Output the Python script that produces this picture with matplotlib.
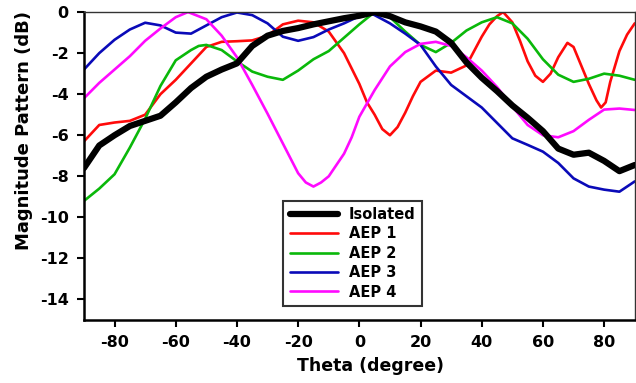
import matplotlib
matplotlib.use("Agg")
import matplotlib.pyplot as plt

# ---------------- data ----------------
theta_iso = [-90, -85, -80, -75, -70, -65, -60, -55, -50, -45, -40, -35, -30, -25, -20,
             -15, -10, -5, 0, 5, 10, 15, 20, 25, 30, 35, 40, 45, 50, 55, 60, 65, 70,
             75, 80, 85, 90]
iso = [-7.6, -6.5, -6.0, -5.55, -5.3, -5.05, -4.4, -3.7, -3.15, -2.8, -2.5, -1.65, -1.15,
       -0.92, -0.78, -0.6, -0.45, -0.3, -0.18, 0.0, -0.2, -0.5, -0.7, -0.95, -1.5, -2.45,
       -3.2, -3.85, -4.55, -5.15, -5.8, -6.65, -6.95, -6.85, -7.25, -7.75, -7.45]

theta_aep1 = [-90, -85, -80, -75, -70, -65, -60, -55, -50, -45, -40, -35, -30, -25, -20,
              -15, -10, -5, 0, 2.5, 5, 7.5, 10, 12.5, 15, 17.5, 20, 25, 30, 35, 40, 42.5,
              45, 47, 50, 52.5, 55, 57.5, 60, 62.5, 65, 68, 70, 72.5, 75, 77.5, 79, 80.5,
              82, 85, 87.5, 90]
aep1 = [-6.3, -5.5, -5.38, -5.3, -5.0, -4.0, -3.3, -2.5, -1.7, -1.45, -1.42, -1.38, -1.15,
        -0.6, -0.42, -0.5, -0.95, -2.0, -3.5, -4.4, -5.0, -5.7, -6.0, -5.6, -4.9, -4.1,
        -3.4, -2.85, -2.95, -2.6, -1.2, -0.6, -0.2, 0.0, -0.5, -1.4, -2.4, -3.1, -3.4,
        -3.0, -2.2, -1.5, -1.7, -2.6, -3.5, -4.3, -4.65, -4.4, -3.4, -1.9, -1.1, -0.55]

theta_aep2 = [-90, -85, -80, -75, -70, -65, -60, -55, -52.5, -50, -45, -40, -35, -30, -25,
              -20, -15, -10, -5, 0, 5, 10, 15, 20, 25, 30, 35, 40, 45, 50, 55, 60, 65, 70,
              75, 80, 85, 90]
aep2 = [-9.2, -8.6, -7.9, -6.6, -5.2, -3.6, -2.35, -1.85, -1.65, -1.6, -1.85, -2.4, -2.9,
        -3.15, -3.3, -2.85, -2.3, -1.9, -1.25, -0.6, 0.0, -0.25, -0.95, -1.6, -1.95, -1.5,
        -0.9, -0.5, -0.25, -0.55, -1.3, -2.3, -3.05, -3.4, -3.25, -3.0, -3.1, -3.3]

theta_aep3 = [-90, -85, -80, -75, -70, -65, -60, -55, -50, -45, -40, -35, -30, -25, -20,
              -15, -10, -5, 0, 3, 5, 10, 15, 20, 25, 30, 35, 40, 45, 50, 55, 60, 65, 70,
              75, 80, 85, 90]
aep3 = [-2.8, -2.0, -1.35, -0.85, -0.52, -0.65, -1.0, -1.05, -0.65, -0.25, -0.02, -0.15,
        -0.55, -1.2, -1.4, -1.22, -0.85, -0.55, -0.2, 0.0, -0.15, -0.55, -1.05, -1.6, -2.65,
        -3.55, -4.1, -4.65, -5.4, -6.15, -6.47, -6.8, -7.35, -8.1, -8.5, -8.65, -8.75, -8.25]

theta_aep4 = [-90, -85, -80, -75, -70, -65, -60, -56, -50, -45, -40, -35, -30, -25, -20,
              -17.5, -15, -12.5, -10, -5, -2.5, 0, 5, 10, 15, 20, 25, 30, 35, 40, 45, 50,
              55, 60, 65, 70, 75, 80, 85, 90]
aep4 = [-4.2, -3.45, -2.8, -2.15, -1.4, -0.8, -0.25, 0.0, -0.35, -1.15, -2.2, -3.55, -4.95,
        -6.4, -7.85, -8.3, -8.5, -8.3, -8.0, -6.9, -6.1, -5.1, -3.8, -2.65, -1.95, -1.55,
        -1.45, -1.65, -2.2, -2.85, -3.65, -4.6, -5.5, -6.0, -6.1, -5.8, -5.25, -4.75,
        -4.7, -4.77]

labels = ["Isolated", "AEP 1", "AEP 2", "AEP 3", "AEP 4"]
colors = ["#000000", "#ff0a0a", "#0ab80a", "#0a0ab8", "#ff0aff"]
xticks = [-80, -60, -40, -20, 0, 20, 40, 60, 80]
yticks = [0, -2, -4, -6, -8, -10, -12, -14]

# ---------------- figure ----------------
plt.rcParams['font.family'] = ['DejaVu Sans']
plt.rcParams['font.weight'] = 'bold'

fig = plt.figure(figsize=(6.36, 3.83), dpi=100)
ax = fig.add_axes([0.132, 0.1645, 0.866, 0.804])

series = [(theta_iso, iso), (theta_aep1, aep1), (theta_aep2, aep2),
          (theta_aep3, aep3), (theta_aep4, aep4)]
widths = [4.5, 1.9, 1.9, 1.9, 1.9]
for (t, v), lab, c, w in zip(series, labels, colors, widths):
    ax.plot(t, v, color=c, lw=w, label=lab, solid_capstyle='round',
            solid_joinstyle='round', zorder=3 if w > 3 else 2)

ax.set_xlim(-90, 90)
ax.set_ylim(-15, 0)
ax.set_xticks(xticks)
ax.set_yticks(yticks)
ax.set_xticklabels([str(x) for x in xticks])
ax.set_yticklabels([str(y) for y in yticks])
ax.tick_params(axis='both', direction='out', length=5, width=1.5, labelsize=11.5, pad=6)
ax.tick_params(top=False, right=False)

for s in ['left', 'bottom']:
    ax.spines[s].set_linewidth(1.8)
    ax.spines[s].set_color('black')
for s in ['top', 'right']:
    ax.spines[s].set_linewidth(1.0)
    ax.spines[s].set_color('#333333')

ax.set_xlabel("Theta (degree)", fontsize=12.5, fontweight='bold', labelpad=5)
ax.set_ylabel("Magnitude Pattern (dB)", fontsize=13, fontweight='bold', labelpad=5)
ax.xaxis.label.set_x(0.521)
ax.yaxis.label.set_y(0.614)

leg = ax.legend(loc='lower left', bbox_to_anchor=(0.362, 0.045), fontsize=10.5,
                frameon=True, fancybox=False, handlelength=3.3, handletextpad=0.75,
                labelspacing=0.3, borderpad=0.45, borderaxespad=0)
leg.get_frame().set_edgecolor('black')
leg.get_frame().set_linewidth(1.5)
for t in leg.get_texts():
    t.set_fontweight('bold')

fig.savefig("out.png", dpi=100, facecolor='white')
